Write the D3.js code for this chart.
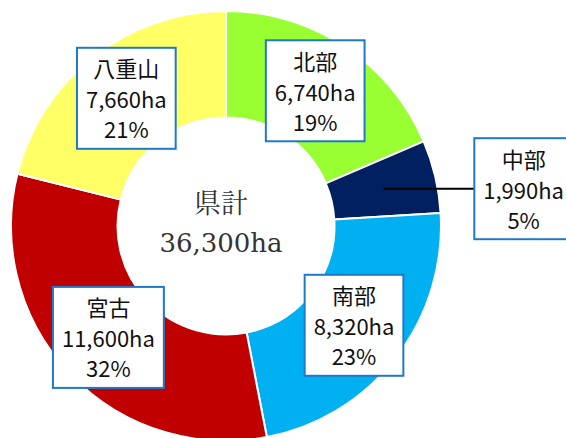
<!DOCTYPE html>
<html>
<head>
<meta charset="utf-8">
<script src="https://cdn.jsdelivr.net/npm/d3@7"></script>
<style>
  html, body { margin: 0; padding: 0; background: #fff; }
  svg { display: block; }
</style>
</head>
<body>
<div class="chart"></div>
<script>
// values
var regions = ["北部", "中部", "南部", "宮古", "八重山"];
var areas = [6740, 1990, 8320, 11600, 7660];
var shares = ["19%", "5%", "23%", "32%", "21%"];
var colors = ["#99ff33", "#002060", "#00b0f0", "#c00000", "#ffff66"];
var totalLabel = "県計";
var totalArea = 36300;

var W = 566, H = 438;
var cx = 226, cy = 226;
var outerR = 215, innerR = 108.5;
var labelR = 162;
var fmt = d3.format(",");

var svg = d3.select(".chart").append("svg")
    .attr("width", W)
    .attr("height", H);

var g = svg.append("g").attr("transform", "translate(" + cx + "," + cy + ")");

var pie = d3.pie().sort(null).value(function(d) { return d; });
var arcs = pie(areas);

var arc = d3.arc().innerRadius(innerR).outerRadius(outerR);
var labelArc = d3.arc().innerRadius(labelR).outerRadius(labelR);

// slices
g.selectAll("path.slice")
  .data(arcs)
  .enter().append("path")
    .attr("class", "slice")
    .attr("d", arc)
    .attr("fill", function(d, i) { return colors[i]; })
    .attr("stroke", "#fff")
    .attr("stroke-width", 2);

// centre text
g.append("text")
  .attr("x", -5).attr("y", -13)
  .attr("text-anchor", "middle")
  .style("font-family", "'Noto Serif CJK JP', 'DejaVu Serif', serif")
  .style("font-size", "27px")
  .attr("fill", "#333")
  .text(totalLabel);
g.append("text")
  .attr("x", -5).attr("y", 26)
  .attr("text-anchor", "middle")
  .style("font-family", "'DejaVu Serif', serif")
  .style("font-size", "26px")
  .attr("fill", "#333")
  .text(fmt(totalArea) + "ha");

// labels: boxes sit on the ring, the small 中部 slice gets one outside with a leader line
var outside = { "中部": 140 };

var labels = g.selectAll("g.label")
  .data(arcs)
  .enter().append("g")
    .attr("class", "label")
    .each(function(d, i) {
      var c = labelArc.centroid(d);
      var dx = outside[regions[i]] || 0;
      d.lx = c[0] + dx;
      d.ly = c[1];
      d.c = c;
      d.dx = dx;
    });

labels.filter(function(d) { return d.dx > 0; })
  .append("line")
    .attr("x1", function(d) { return d.c[0]; })
    .attr("y1", function(d) { return d.c[1]; })
    .attr("x2", function(d) { return d.lx - 48; })
    .attr("y2", function(d) { return d.c[1]; })
    .attr("stroke", "#000")
    .attr("stroke-width", 2);

var box = labels.append("rect")
    .attr("fill", "#fff")
    .attr("stroke", "#2079c7")
    .attr("stroke-width", 2);

var txt = labels.append("text")
    .attr("text-anchor", "middle")
    .style("font-family", "'Noto Sans CJK JP', 'Noto Sans', sans-serif")
    .style("font-size", "22px")
    .attr("fill", "#111");

txt.append("tspan")
    .attr("x", function(d) { return d.lx; })
    .attr("y", function(d) { return d.ly - 21; })
    .text(function(d, i) { return regions[i]; });
txt.append("tspan")
    .attr("x", function(d) { return d.lx; })
    .attr("y", function(d) { return d.ly + 10; })
    .text(function(d) { return fmt(d.data) + "ha"; });
txt.append("tspan")
    .attr("x", function(d) { return d.lx; })
    .attr("y", function(d) { return d.ly + 40; })
    .text(function(d, i) { return shares[i]; });

// size boxes around their text
box.each(function(d) {
  var t = d3.select(this.parentNode).select("text").node().getBBox();
  var w = Math.max(97, t.width + 18);
  d3.select(this)
    .attr("x", d.lx - w / 2)
    .attr("y", d.ly - 50.5)
    .attr("width", w)
    .attr("height", 101);
});
</script>
</body>
</html>
